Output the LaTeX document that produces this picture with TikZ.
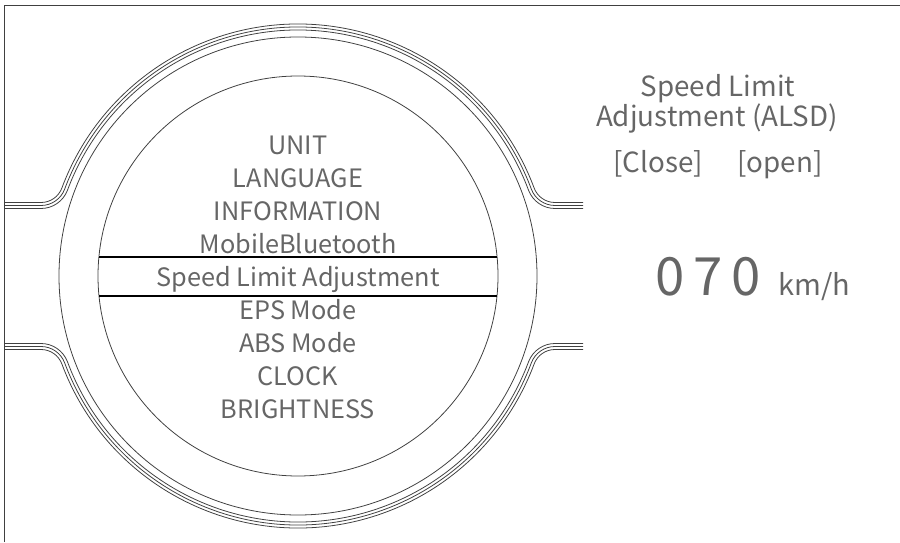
\documentclass[tikz,border=0pt]{standalone}
\usepackage{fontspec}
\newfontfamily\dispfont{Noto Sans CJK SC}
\usetikzlibrary{positioning}
\tikzset{
  outline/.style={draw=black!75,line width=0.45pt},
  menuitem/.style={font=\dispfont\fontsize{14.4}{15}\selectfont,text=black!60,anchor=base,inner sep=0pt},
  sidetext/.style={font=\dispfont\fontsize{15.8}{16}\selectfont,text=black!60,anchor=base,inner sep=0pt},
}
\begin{document}
\begin{tikzpicture}[x=0.02cm,y=0.02cm]
\useasboundingbox (0,0) rectangle (900,542);
\draw[outline] (4,0) -- (4,537) -- (900,537);

\coordinate (C) at (298,266);
\draw[outline] (C) circle[radius=239];
\draw[outline] (C) circle[radius=200];

% lug contour, three lines
\begin{scope}[shift={(298,266)}]
\foreach \d in {-3,0,3}{
  \pgfmathsetmacro\rad{249+\d}
  \pgfmathsetmacro\lug{70.5+\d}
  \pgfmathsetmacro\fil{25.3-\d}
  \draw[outline] (285,\lug) -- (257,\lug) arc[start angle=270,end angle=200.45,radius=\fil]
    arc[start angle=20.45,end angle=159.55,radius=\rad]
    arc[start angle=339.55,end angle=270,radius=\fil] -- (-294,\lug);
  \draw[outline] (-294,-\lug) -- (-257,-\lug) arc[start angle=90,end angle=20.45,radius=\fil]
    arc[start angle=200.45,end angle=339.55,radius=\rad]
    arc[start angle=159.55,end angle=90,radius=\fil] -- (285,-\lug);
}
\end{scope}

\draw[black,line width=0.7pt] (99,285) -- (497,285);
\draw[black,line width=0.7pt] (99,246) -- (497,246);

\foreach \lbl [count=\i] in {UNIT,LANGUAGE,INFORMATION,MobileBluetooth,Speed Limit Adjustment,EPS Mode,ABS Mode,CLOCK,BRIGHTNESS}
  \node[menuitem] (m\i) at (298,{388-33*(\i-1)}) {\lbl};

\node[sidetext] (title1) at (718,445) {Speed Limit};
\node[sidetext] (title2) at (717,416) {Adjustment (ALSD)};
\node[sidetext] (close) at (658,370) {[Close]};
\node[sidetext] (open) at (780,370) {[open]};
\node[font=\dispfont\fontsize{30}{30}\selectfont,text=black!60,anchor=base,inner sep=0pt] (speed) at (708,247) {0\,7\,0};
\node[font=\dispfont\fontsize{16.5}{17}\selectfont,text=black!60,anchor=base west,inner sep=0pt] (unit) at (778,247) {km/h};
\end{tikzpicture}
\end{document}
